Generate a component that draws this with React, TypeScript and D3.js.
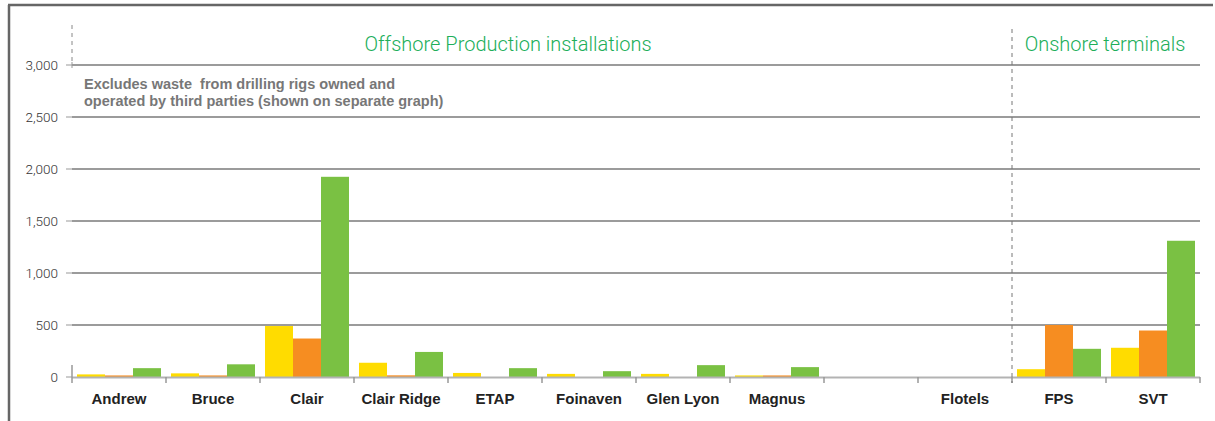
import React, { useEffect, useRef } from 'react';
import * as d3 from 'd3';

// categories along the x axis (one blank slot before Flotels, as in the original)
const categories = ['Andrew', 'Bruce', 'Clair', 'Clair Ridge', 'ETAP', 'Foinaven', 'Glen Lyon', 'Magnus', '', 'Flotels', 'FPS', 'SVT'];
const seriesNames = ['yellow', 'orange', 'green'];
const yellowValues = [25, 35, 490, 137, 39, 30, 30, 15, 0, 0, 75, 281];
const orangeValues = [15, 15, 370, 16, 0, 0, 0, 15, 0, 0, 500, 447];
const greenValues = [85, 122, 1925, 241, 85, 56, 114, 95, 0, 0, 271, 1310];
const yTicks = [0, 500, 1000, 1500, 2000, 2500, 3000];
const colors = ['#FFDC00', '#F68D21', '#7AC143'];
const noteLines = ['Excludes waste  from drilling rigs owned and', 'operated by third parties (shown on separate graph)'];

const W = 1215, H = 421;
const FONT = '"Liberation Sans", Arial, sans-serif';

function App() {
  const ref = useRef<SVGSVGElement>(null);

  useEffect(() => {
    const svg = d3.select(ref.current);
    svg.selectAll('*').remove();

    const x = d3.scaleBand<string>().domain(categories).range([72, 1200]).padding(0);
    const x1 = d3.scaleBand<string>().domain(seriesNames).range([5, x.bandwidth() - 5]).padding(0);
    const y = d3.scaleLinear().domain([0, 3000]).range([377, 65]);

    // frame (top and left)
    svg.append('line').attr('x1', 8).attr('x2', 1213).attr('y1', 5).attr('y2', 5)
      .attr('stroke', '#666').attr('stroke-width', 2.5);
    svg.append('line').attr('x1', 9).attr('x2', 9).attr('y1', 5).attr('y2', H)
      .attr('stroke', '#666').attr('stroke-width', 2.5);

    // grid lines + y labels
    const grid = svg.append('g');
    yTicks.filter((t) => t > 0).forEach((t) => {
      grid.append('line').attr('x1', 72).attr('x2', 1200).attr('y1', y(t)).attr('y2', y(t))
        .attr('stroke', '#7a7a7a').attr('stroke-width', 1.5);
    });
    yTicks.forEach((t) => {
      grid.append('line').attr('x1', 66).attr('x2', 72).attr('y1', y(t)).attr('y2', y(t))
        .attr('stroke', '#999').attr('stroke-width', 1);
      grid.append('text').attr('x', 58).attr('y', y(t) + 5)
        .attr('text-anchor', 'end').attr('font-family', 'Roboto, sans-serif').attr('font-weight', 300)
        .attr('font-size', 13.5).attr('fill', '#333').text(d3.format(',')(t));
    });
    grid.append('line').attr('x1', 72).attr('x2', 72).attr('y1', y(3000) - 3).attr('y2', y(3000) + 3)
      .attr('stroke', '#999');

    // bars
    const data = categories.map((c, i) => ({ c, v: [yellowValues[i], orangeValues[i], greenValues[i]] }));
    svg.append('g').selectAll('g').data(data).join('g')
      .attr('transform', (d) => `translate(${x(d.c)},0)`)
      .selectAll('rect')
      .data((d) => d.v.map((v, k) => ({ k, v })))
      .join('rect')
      .attr('x', (d) => x1(seriesNames[d.k]) as number)
      .attr('width', x1.bandwidth())
      .attr('y', (d) => y(d.v))
      .attr('height', (d) => y(0) - y(d.v))
      .attr('fill', (d) => colors[d.k]);

    // baseline and category ticks
    svg.append('line').attr('x1', 72).attr('x2', 1200).attr('y1', y(0) + 0.5).attr('y2', y(0) + 0.5)
      .attr('stroke', '#b3b3b3').attr('stroke-width', 2);
    const bounds = categories.map((c) => x(c) as number).concat([1200]);
    bounds.forEach((b, i) => {
      svg.append('line').attr('x1', b).attr('x2', b)
        .attr('y1', i === 0 ? y(0) - 12 : y(0)).attr('y2', y(0) + 6)
        .attr('stroke', '#999').attr('stroke-width', 1.5);
    });
    svg.append('g').selectAll('text').data(categories).join('text')
      .attr('x', (d) => (x(d) as number) + x.bandwidth() / 2)
      .attr('y', 404)
      .attr('text-anchor', 'middle').attr('font-family', FONT).attr('font-size', 15)
      .attr('font-weight', 'bold').attr('fill', '#222')
      .text((d) => d);

    // dashed separators
    svg.append('line').attr('x1', 72).attr('x2', 72).attr('y1', 25).attr('y2', y(3000))
      .attr('stroke', '#888').attr('stroke-dasharray', '4,4');
    const sep = x('FPS') as number;
    svg.append('line').attr('x1', sep).attr('x2', sep).attr('y1', 29).attr('y2', y(0) + 6)
      .attr('stroke', '#777').attr('stroke-dasharray', '4,4');

    // section titles
    svg.append('text').attr('x', 508).attr('y', 51).attr('text-anchor', 'middle')
      .attr('font-family', 'Roboto, sans-serif').attr('font-weight', 300).attr('font-size', 20)
      .attr('fill', '#20AE59').text('Offshore Production installations');
    svg.append('text').attr('x', 1105).attr('y', 51).attr('text-anchor', 'middle')
      .attr('font-family', 'Roboto, sans-serif').attr('font-weight', 300).attr('font-size', 20)
      .attr('fill', '#20AE59').text('Onshore terminals');

    // note
    noteLines.forEach((l, i) => {
      svg.append('text').attr('x', 84).attr('y', 89 + i * 17)
        .attr('font-family', FONT).attr('font-size', 14.5).attr('font-weight', 'bold')
        .attr('fill', '#777').style('white-space', 'pre').text(l);
    });
  }, []);

  return (
    <svg ref={ref} width={W} height={H} style={{ position: 'absolute', left: 0, top: 0, background: '#fff' }} />
  );
}

export default App;
